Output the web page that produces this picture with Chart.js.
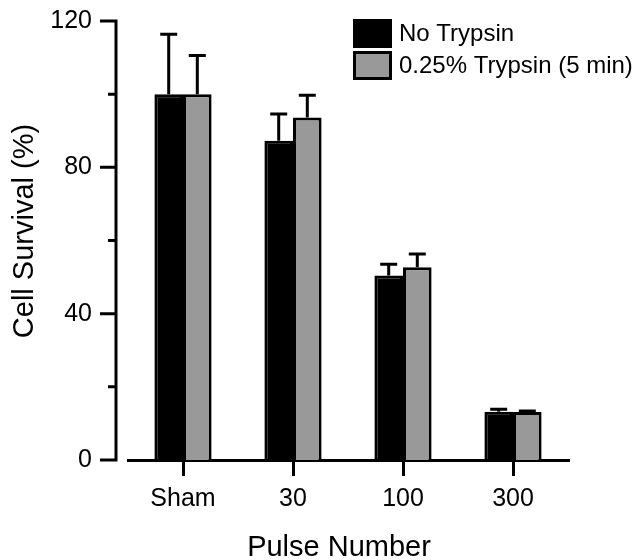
<!DOCTYPE html>
<html><head><meta charset="utf-8">
<script src="https://cdn.jsdelivr.net/npm/chart.js@4/dist/chart.umd.min.js"></script>
<style>html,body{margin:0;padding:0;background:#fff}canvas{display:block}</style>
</head><body>
<canvas id="c" width="638" height="560"></canvas>
<script>
const categories = ['Sham', '30', '100', '300'];
const seriesNames = ['No Trypsin', '0.25% Trypsin (5 min)'];
const noTrypsin = [100, 87.3, 50.4, 13.2];
const noTrypsinErr = [16.4, 7.3, 3.1, 0.7];
const trypsin = [100, 93.6, 52.7, 13.1];
const trypsinErr = [10.6, 6.1, 3.6, 0.3];
const yLabelTicks = [0, 40, 80, 120];
const xTitle = 'Pulse Number';
const yTitle = 'Cell Survival (%)';
const errors = [noTrypsinErr, trypsinErr];

const FONT = "'Liberation Sans', Arial, sans-serif";
Chart.defaults.font.family = FONT;
Chart.defaults.color = '#000';

const axisPlugin = {
  id: 'axisDraw',
  afterDraw(chart) {
    const {ctx, chartArea: a, scales: {y}} = chart;
    const x0 = a.left - 12;
    ctx.save();
    ctx.strokeStyle = '#000';
    ctx.lineWidth = 3;
    ctx.beginPath();
    ctx.moveTo(x0, y.getPixelForValue(y.max) - 1.5);
    ctx.lineTo(x0, y.getPixelForValue(y.min) + 1.5);
    y.ticks.forEach(t => {
      const py = y.getPixelForValue(t.value);
      const len = yLabelTicks.includes(t.value) ? 16 : 8;
      ctx.moveTo(x0 - len, py);
      ctx.lineTo(x0 + 1.5, py);
    });
    ctx.stroke();
    // axis titles
    ctx.fillStyle = '#000';
    ctx.font = '29px ' + FONT;
    ctx.textAlign = 'center';
    ctx.textBaseline = 'alphabetic';
    ctx.fillText(xTitle, a.left + 211, a.bottom + 96);
    ctx.translate(33, a.top + 210);
    ctx.rotate(-Math.PI / 2);
    ctx.fillText(yTitle, 0, 0);
    ctx.restore();
  }
};

const errorPlugin = {
  id: 'errorBars',
  afterDatasetsDraw(chart) {
    const {ctx, scales: {y}} = chart;
    ctx.save();
    ctx.strokeStyle = '#000';
    ctx.lineWidth = 3;
    chart.data.datasets.forEach((ds, di) => {
      const meta = chart.getDatasetMeta(di);
      meta.data.forEach((el, i) => {
        const v = ds.data[i];
        const e = errors[di][i];
        const yt = y.getPixelForValue(v + e);
        ctx.beginPath();
        ctx.moveTo(el.x, el.y);
        ctx.lineTo(el.x, yt);
        ctx.moveTo(el.x - 8.5, yt);
        ctx.lineTo(el.x + 8.5, yt);
        ctx.stroke();
      });
    });
    ctx.restore();
  }
};

const legendPlugin = {
  id: 'customLegend',
  afterDraw(chart) {
    const {ctx, chartArea: a} = chart;
    const bx = a.right - 215;
    let by = a.top - 2;
    ctx.save();
    ctx.font = '24px ' + FONT;
    ctx.textBaseline = 'middle';
    ctx.textAlign = 'left';
    chart.data.datasets.forEach(ds => {
      ctx.fillStyle = ds.backgroundColor;
      ctx.fillRect(bx, by, 39, 29);
      ctx.strokeStyle = '#000';
      ctx.lineWidth = 3;
      ctx.strokeRect(bx + 1.5, by + 1.5, 36, 26);
      ctx.fillStyle = '#000';
      ctx.fillText(ds.label, bx + 46, by + 15);
      by += 32;
    });
    ctx.restore();
  }
};

new Chart(document.getElementById('c'), {
  type: 'bar',
  data: {
    labels: categories,
    datasets: [
      {label: seriesNames[0], data: noTrypsin, backgroundColor: '#000000', borderColor: '#000', borderWidth: 3},
      {label: seriesNames[1], data: trypsin, backgroundColor: '#999999', borderColor: '#000', borderWidth: 3}
    ]
  },
  options: {
    responsive: false,
    animation: false,
    datasets: {bar: {barPercentage: 1, categoryPercentage: 0.52}},
    layout: {padding: {top: 21, right: 70, left: 0, bottom: 0}},
    plugins: {legend: {display: false}, tooltip: {enabled: false}},
    scales: {
      x: {
        offset: true,
        grid: {display: true, drawOnChartArea: false, drawTicks: true, tickLength: 16, color: '#000', lineWidth: 3, offset: false},
        border: {display: true, color: '#000', width: 3},
        ticks: {font: {size: 25}, padding: 8, color: '#000', maxRotation: 0},
        title: {display: false},
        afterFit(s) { s.height = 100; s.paddingLeft = 0; s.paddingRight = 0; }
      },
      y: {
        min: 0, max: 120,
        grid: {display: false, drawTicks: false},
        border: {display: false},
        ticks: {stepSize: 20, font: {size: 25}, padding: 36, color: '#000',
          callback: v => yLabelTicks.includes(v) ? String(v) : ''},
        title: {display: false},
        afterFit(s) { s.width = 128; s.paddingTop = 0; s.paddingBottom = 0; }
      }
    }
  },
  plugins: [axisPlugin, errorPlugin, legendPlugin]
});
</script>
</body></html>
